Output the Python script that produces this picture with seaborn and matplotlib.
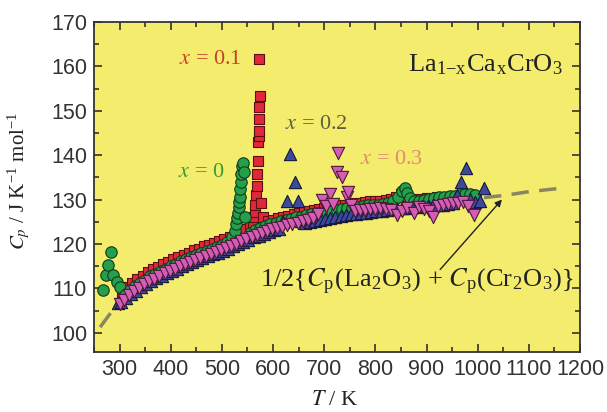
import matplotlib
matplotlib.use('Agg')
import matplotlib.pyplot as plt
import seaborn as sns
import pandas as pd
from matplotlib.ticker import MultipleLocator

sns.set_theme(style='ticks')
plt.rcParams['font.family'] = ['Liberation Sans', 'DejaVu Sans']
plt.rcParams['mathtext.fontset'] = 'stix'

# ---------------- data ----------------
# x = 0 (green circles)
T_x0 = [268, 274, 278, 283, 288, 294, 300,
        310, 320, 330, 340, 350, 360, 370, 380, 390, 400, 410, 420, 430, 440,
        450, 460, 470, 480, 490, 500, 510, 520, 525, 528, 530, 532, 533, 534,
        535, 536, 537, 538, 539, 541, 543, 546, 555, 565, 575, 585, 595, 605,
        615, 625, 635, 645, 655, 665, 675, 685, 695, 705, 715, 725, 735, 745,
        755, 765, 775, 785, 795, 805, 815, 825, 835, 845, 852, 857, 862, 868,
        875, 885, 895, 905, 915, 925, 935, 945, 955, 965, 975, 985, 995]
C_x0 = [109.7, 113.0, 115.3, 118.3, 113.1, 111.5, 110.4,
        108.5, 109.6, 110.5, 111.3, 112.0, 112.7, 113.3, 113.9, 114.5, 115.1,
        115.6, 116.1, 116.6, 117.1, 117.6, 118.0, 118.5, 118.9, 119.3, 119.8,
        120.5, 121.6, 123.0, 124.5, 125.8, 127.0, 128.3, 129.5, 130.6, 132.3,
        133.9, 135.7, 137.5, 138.3, 136.2, 126.0, 122.6, 123.2, 123.7, 124.1,
        124.5, 124.8, 125.1, 125.4, 125.7, 126.0, 126.2, 126.5, 126.7, 126.9,
        127.1, 127.3, 127.5, 127.7, 127.9, 128.1, 128.2, 128.4, 128.5, 128.7,
        128.8, 128.9, 129.1, 129.3, 129.6, 130.6, 132.0, 132.7, 131.5, 130.3,
        129.8, 129.8, 129.9, 130.1, 130.3, 130.5, 130.7, 130.8, 130.9, 131.1,
        131.3, 131.2, 131.0]

# x = 0.1 (red squares)
T_x01 = [305, 315, 325, 335, 345, 355, 365, 375, 385, 395, 405, 415, 425, 435,
         445, 455, 465, 475, 485, 495, 505, 515, 525, 535, 545, 555,
         560, 562, 564, 565, 567, 568, 569, 570, 571, 572, 572, 573, 573, 574,
         572, 576, 580, 590, 600, 610, 620, 630, 640, 650, 660, 670, 680, 690,
         700, 710, 720, 730, 740, 750, 760, 770, 780, 790, 800, 810, 820, 830,
         840, 850, 860, 870, 880, 890, 900, 910, 920, 930, 940, 950, 960]
C_x01 = [109.3, 110.3, 111.3, 112.2, 112.9, 113.6, 114.3, 114.9, 115.5, 116.0,
         116.6, 117.1, 117.6, 118.1, 118.6, 119.0, 119.5, 119.9, 120.3, 120.7,
         121.2, 121.7, 122.2, 122.7, 123.3, 124.0,
         124.6, 126.2, 127.3, 128.9, 131.0, 133.0, 135.7, 138.6, 142.9, 144.3,
         145.4, 148.1, 150.8, 153.3, 161.6, 129.3, 126.2, 125.2, 125.5, 125.8,
         126.1, 126.4, 126.7, 127.0, 127.2, 127.5, 127.7, 127.9, 128.1, 128.3,
         128.5, 128.7, 128.9, 129.0, 129.2, 129.3, 129.5, 129.6, 129.7, 129.8,
         129.9, 130.1, 130.5, 131.2, 130.9, 130.2, 130.0, 130.1, 130.3, 130.4,
         130.5, 130.6, 130.7, 130.8, 130.9]

# x = 0.2 (blue up-triangles)
T_x02 = [296, 302, 312, 322, 332, 342, 352, 362, 372, 382, 392, 402, 412, 422,
         432, 442, 452, 462, 472, 482, 492, 502, 512, 522, 532, 542, 552, 562,
         572, 582, 592, 602, 612, 620, 627, 633, 643, 649, 655, 662, 672, 682,
         692, 702, 712, 722, 732, 742, 752, 762, 772, 782, 792, 802, 812, 822,
         832, 842, 852, 862, 872, 882, 892, 902, 912, 922, 932, 942, 952, 960,
         967, 978, 985, 995, 1005, 1012]
C_x02 = [106.8, 106.9, 107.8, 108.7, 109.5, 110.3, 111.0, 111.7, 112.3, 112.9,
         113.5, 114.0, 114.5, 115.0, 115.5, 116.0, 116.5, 116.9, 117.3, 117.7,
         118.1, 118.5, 119.0, 119.5, 120.0, 120.5, 121.0, 121.5, 121.9, 122.3,
         122.7, 123.1, 123.4, 125.0, 129.6, 140.2, 134.0, 129.6, 125.3, 124.7,
         125.0, 125.3, 125.5, 125.7, 125.9, 126.1, 126.3, 126.5, 126.7, 126.8,
         127.0, 127.1, 127.3, 127.4, 127.5, 127.7, 127.8, 127.9, 128.1, 128.2,
         128.3, 128.4, 128.5, 128.6, 128.7, 128.8, 128.9, 129.1, 129.3, 131.0,
         134.0, 137.2, 130.2, 129.5, 129.7, 132.7]

# x = 0.3 (magenta down-triangles)
T_x03 = [300, 308, 318, 328, 338, 348, 358, 368, 378, 388, 398, 408, 418, 428,
         438, 448, 458, 468, 478, 488, 498, 508, 518, 528, 538, 548, 558, 568,
         578, 588, 598, 608, 618, 628, 638, 648, 658, 668, 678, 688, 696, 704,
         712, 718, 725, 727, 735, 745, 747, 752, 760, 770, 780, 790, 800, 810,
         820, 830, 843, 852, 862, 875, 885, 895, 905, 912, 922, 932, 942, 952,
         962, 972, 982, 992]
C_x03 = [106.6, 107.5, 108.5, 109.4, 110.2, 110.9, 111.6, 112.2, 112.8, 113.4,
         114.0, 114.5, 115.0, 115.5, 116.0, 116.5, 116.9, 117.4, 117.8, 118.2,
         118.6, 119.1, 119.6, 120.1, 120.6, 121.1, 121.6, 122.1, 122.5, 122.9,
         123.3, 123.6, 123.9, 124.2, 124.5, 124.8, 125.1, 125.4, 125.8, 126.8,
         130.0, 128.5, 131.2, 129.0, 136.3, 140.6, 135.0, 130.5, 131.8, 128.8,
         127.5, 127.6, 127.7, 127.8, 128.0, 128.1, 128.0, 127.6, 126.6, 127.5,
         128.2, 127.0, 128.3, 128.0, 127.5, 126.2, 128.5, 128.8, 129.0, 129.2,
         129.3, 129.4, 128.5, 126.6]

# 1/2{Cp(La2O3) + Cp(Cr2O3)} (dashed)
T_ref = [262, 300, 400, 500, 600, 700, 800, 900, 1000, 1055, 1100, 1165]
C_ref = [101.3, 107.2, 114.6, 119.3, 123.6, 126.2, 127.9, 129.2, 130.3, 131.0, 131.8, 132.6]

x_ticks = [300, 400, 500, 600, 700, 800, 900, 1000, 1100, 1200]
y_ticks = [100, 110, 120, 130, 140, 150, 160, 170]

# ---------------- figure ----------------
fig = plt.figure(figsize=(6.07, 4.12), dpi=100)
ax = fig.add_axes([94 / 607, 1 - 352 / 412, 486 / 607, 330 / 412])
ax.set_facecolor('#f4ec6c')

sns.lineplot(x=T_ref, y=C_ref, ax=ax, color='#8a8562', lw=2.5,
             linestyle=(0, (5, 3)), sort=False, zorder=1)

series = [
    (T_x01, C_x01, 's', 55, '#e0283a', '#5a1010'),
    (T_x0, C_x0, 'o', 68, '#25a04a', '#123a1e'),
    (T_x02, C_x02, '^', 78, '#3c4a9c', '#15183a'),
    (T_x03, C_x03, 'v', 78, '#d45cb4', '#4a1a3a'),
]
for T, C, m, s, fc, ec in series:
    df = pd.DataFrame({'T': T, 'Cp': C})
    sns.scatterplot(data=df, x='T', y='Cp', marker=m, s=s, color=fc,
                    edgecolor=ec, linewidth=0.8, ax=ax, zorder=3, legend=False)

ax.set_xlim(250, 1200)
ax.set_ylim(95.7, 170)
ax.set_xticks(x_ticks)
ax.set_yticks(y_ticks)
ax.xaxis.set_minor_locator(MultipleLocator(50))
ax.yaxis.set_minor_locator(MultipleLocator(5))
ax.tick_params(which='both', direction='in', top=True, right=True,
               color='#333333', width=1.2)
ax.tick_params(which='major', length=6, labelsize=15.5, labelcolor='#333333', pad=5)
ax.tick_params(which='minor', length=3.5)
for sp in ax.spines.values():
    sp.set_color('#333333')
    sp.set_linewidth(1.3)

serif = 'Liberation Serif'
ax.set_xlabel(r'$T$ / K', fontfamily=serif, fontsize=16, color='#222222')
ax.xaxis.set_label_coords(0.496, -0.118)
ax.set_ylabel(r'$C_p$ / J K$^{\mathregular{-1}}$ mol$^{\mathregular{-1}}$',
              fontfamily=serif, fontsize=15, color='#222222')
ax.yaxis.set_label_coords(-0.125, 0.52)

ax.text(478, 161.6, r'$x$ = 0.1', fontfamily=serif, fontsize=16,
        color='#c8402a', ha='center', va='center')
ax.text(459, 136.1, r'$x$ = 0', fontfamily=serif, fontsize=16,
        color='#3a9a3a', ha='center', va='center')
ax.text(684, 147.0, r'$x$ = 0.2', fontfamily=serif, fontsize=16,
        color='#5e5e48', ha='center', va='center')
ax.text(831, 139.0, r'$x$ = 0.3', fontfamily=serif, fontsize=16,
        color='#e08c6c', ha='center', va='center')
ax.text(1016, 160.3, r'La$_{\mathregular{1{-}x}}$Ca$_{\mathregular{x}}$CrO$_{\mathregular{3}}$',
        fontfamily=serif, fontsize=19, color='#222222', ha='center', va='center')
ax.text(880, 111.5,
        r'1/2{$C_{\mathregular{p}}$(La$_{\mathregular{2}}$O$_{\mathregular{3}}$) + '
        r'$C_{\mathregular{p}}$(Cr$_{\mathregular{2}}$O$_{\mathregular{3}}$)}',
        fontfamily=serif, fontsize=19, color='#222222', ha='center', va='center')
ax.annotate('', xy=(1051, 130.5), xytext=(923, 113.8),
            arrowprops=dict(arrowstyle='-|>', color='#222222', lw=1.0,
                            mutation_scale=10), zorder=4)

fig.savefig('out.png', dpi=100, facecolor='white')
